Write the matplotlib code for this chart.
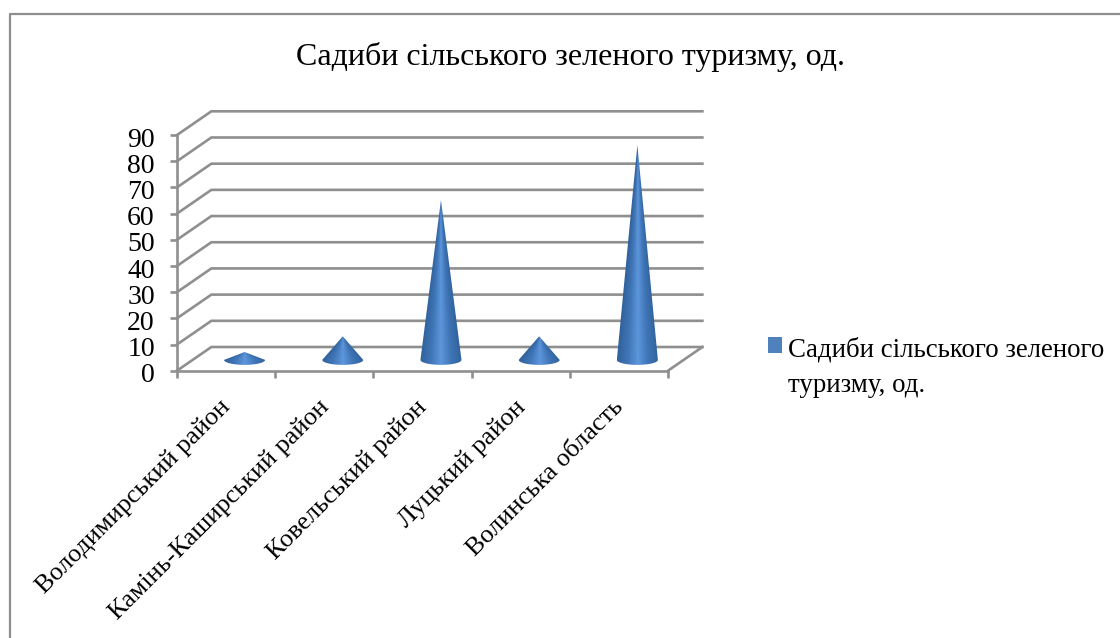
import numpy as np
import matplotlib
matplotlib.use("Agg")
import matplotlib.pyplot as plt
from matplotlib.colors import LinearSegmentedColormap
from matplotlib.lines import Line2D
from matplotlib.offsetbox import HPacker
from matplotlib.patches import Patch, Polygon
from matplotlib.transforms import ScaledTranslation

title = "Садиби сільського зеленого туризму, од."
series_label = "Садиби сільського зеленого\nтуризму, од."
districts = ["Володимирський район", "Камінь-Каширський район", "Ковельський район",
             "Луцький район", "Волинська область"]
estates = [3, 9, 61, 9, 82]
value_ticks = list(range(0, 100, 10))

W, H = 1120, 638
GRID = "#8f8f8f"
LW = 1.9
plt.rcParams["font.family"] = ["Liberation Serif", "DejaVu Serif"]

fig = plt.figure(figsize=(W / 100, H / 100), dpi=100, facecolor="white")

# The front plane of the pseudo-3D box is the axes rectangle.
left, right, bottom, top = 177, 668, 370.7, 135
ax = fig.add_axes([left / W, 1 - bottom / H, (right - left) / W, (bottom - top) / H])
ax.set_xlim(0, len(districts))
ax.set_ylim(0, 90)
ax.patch.set_visible(False)
for side in ["top", "right"]:
    ax.spines[side].set_visible(False)
for side in ["left", "bottom"]:
    ax.spines[side].set_color(GRID)
    ax.spines[side].set_linewidth(LW)

# Depth of the box, in data units along each axis.
depth_x, depth_y = 0.35, 9.05

for v in value_ticks:
    ax.plot([0, depth_x, len(districts) + depth_x], [v, v + depth_y, v + depth_y],
            color=GRID, lw=LW, clip_on=False, zorder=1, solid_joinstyle="miter")
ax.plot([len(districts), len(districts) + depth_x], [0, depth_y],
        color=GRID, lw=LW, clip_on=False, zorder=1)

ax.set_yticks(value_ticks)
ax.set_yticklabels([str(v) for v in value_ticks], fontsize=20)
ax.tick_params(axis="y", length=5, width=LW, color=GRID, pad=11)
nudge = ScaledTranslation(0, -1.5 / 72, fig.dpi_scale_trans)
for lab in ax.get_yticklabels():
    lab.set_transform(lab.get_transform() + nudge)

ax.set_xticks(range(len(districts) + 1))
ax.set_xticklabels([""] * (len(districts) + 1))
ax.tick_params(axis="x", length=5, width=LW, color=GRID, direction="out")

for i, name in enumerate(districts):
    ax.annotate(name, xy=(i + 0.5, 0), xytext=(-5, -18), textcoords="offset points",
                rotation=45, rotation_mode="anchor", ha="right", va="top", fontsize=18.8)

# Shaded cones: brightness follows the position across the local cone width.
shade = LinearSegmentedColormap.from_list(
    "cone", ["#31629c", "#3f75b6", "#5d96dc", "#3f75b6", "#31629c"])
half_w = 0.209
half_h = 1.9
for i, value in enumerate(estates):
    cx = i + 0.5 + 0.188
    cy = depth_y / 2 - 0.4
    apex = cy + value
    xs = np.linspace(cx - half_w, cx + half_w, 120)
    ys = np.linspace(cy - half_h - 0.1, apex, 500)
    gx, gy = np.meshgrid(xs, ys)
    frac = np.clip((apex - gy) / value, 1e-3, 1)
    u = np.clip((gx - cx) / (half_w * frac), -1, 1)
    im = ax.imshow((u + 1) / 2, cmap=shade, vmin=0, vmax=1, origin="lower", aspect="auto",
                   extent=[xs[0], xs[-1], ys[0], ys[-1]], zorder=3, interpolation="bilinear")
    t = np.linspace(np.pi, 2 * np.pi, 40)
    outline = np.column_stack([cx + half_w * np.cos(t), cy + half_h * np.sin(t)])
    outline = np.vstack([outline, [cx, apex]])
    clip = Polygon(outline, closed=True, transform=ax.transData, facecolor="none", edgecolor="none")
    ax.add_patch(clip)
    im.set_clip_path(clip)
ax.set_xlim(0, len(districts))
ax.set_ylim(0, 90)

fig.text(571 / W, 1 - 57 / H, title, ha="center", va="center", fontsize=23)

leg = fig.legend(handles=[Patch(facecolor="#4f81bd", edgecolor="none")], labels=[series_label],
                 loc="upper left", bbox_to_anchor=(762.5 / W, 1 - 331.5 / H), frameon=False,
                 fontsize=19.4, handlelength=0.52, handleheight=0.52, handletextpad=0.22,
                 borderpad=0.2, borderaxespad=0, labelspacing=0.2)
for txt in leg.get_texts():
    txt.set_linespacing(1.55)
# Keep the swatch level with the first line of the label.
for pack in leg.findobj(HPacker):
    pack.align = "top"

# Chart frame: only its top and left edges fall inside the image.
fig.add_artist(Line2D([9.5 / W, 9.5 / W, 1], [0, 1 - 14 / H, 1 - 14 / H],
                      transform=fig.transFigure, color="#8e8e8e", lw=1.6))

fig.savefig("out.png", dpi=100)
